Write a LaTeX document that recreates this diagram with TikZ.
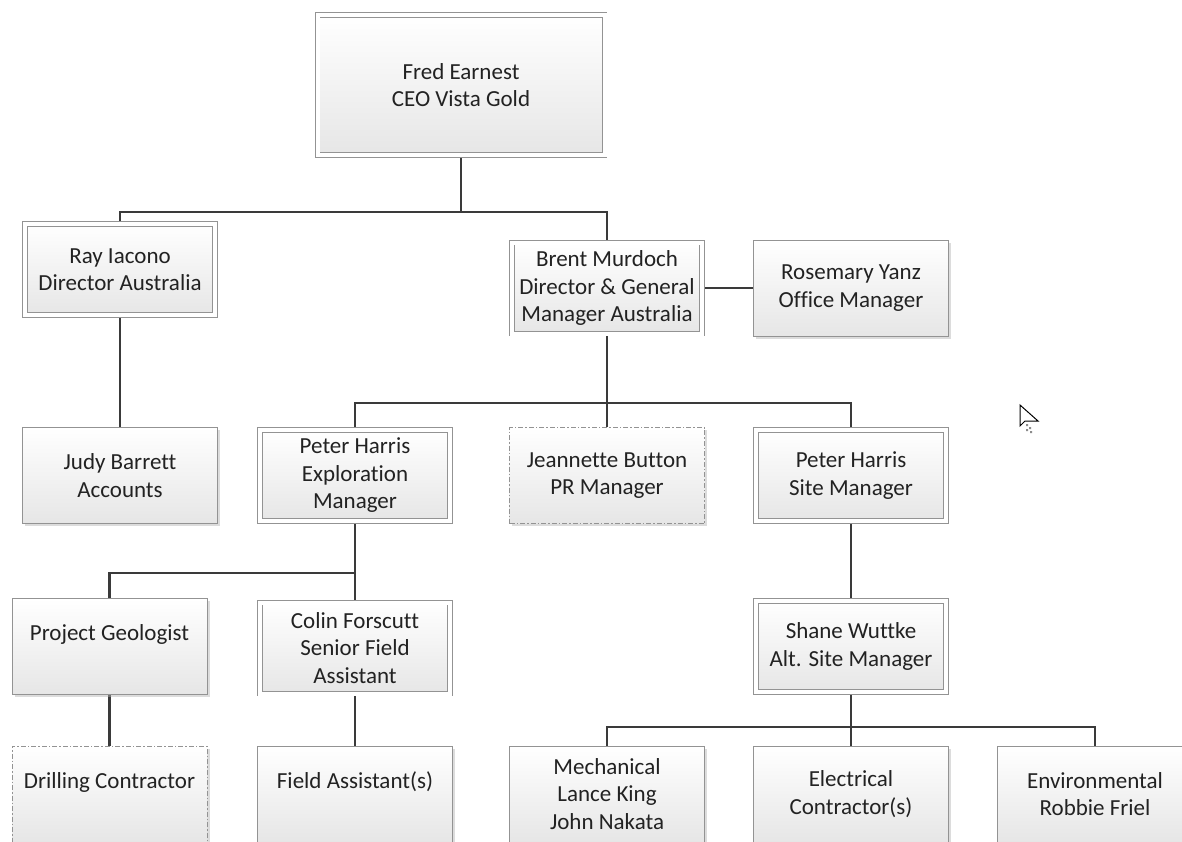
\documentclass[tikz,border=0pt]{standalone}
\usepackage{fontspec}
\setmainfont{Carlito}[Ligatures=NoCommon]
\usetikzlibrary{shadows,backgrounds}
\definecolor{boxline}{HTML}{939393}
\definecolor{boxbot}{HTML}{E6E6E6}
\definecolor{conncol}{HTML}{3A3A3A}
\definecolor{txt}{HTML}{222222}
\begin{document}
\begin{tikzpicture}[x=1pt,y=-1pt,
 box/.style={rectangle, draw=boxline, line width=0.9pt, top color=white, bottom color=boxbot,
   minimum width=195pt, minimum height=96pt, inner sep=0pt, align=center, text=txt,
   font=\fontsize{23}{27.5}\selectfont,
   drop shadow={shadow xshift=2.5pt, shadow yshift=-2.5pt, fill=black!30, opacity=0.45}},
 dbl/.style={box, double=white, double distance=4pt, minimum width=190pt, minimum height=91pt},
 dsh/.style={box, dash pattern=on 5pt off 2pt on 1.5pt off 2pt},
 conn/.style={draw=conncol, line width=2.5pt}]
\useasboundingbox (0,0) rectangle (1182,841);
\begin{scope}[on background layer]
\fill[white] (0,0) rectangle (1182,841);
\end{scope}
\clip (0,0) rectangle (1182,841);

\node[dbl, minimum width=287pt, minimum height=140pt] (fred) at (461,85) {Fred Earnest\\CEO Vista Gold};
\node[dbl] (ray) at (120,269.5) {Ray Iacono\\Director Australia};
\node[dbl] (brent) at (607,288) {Brent Murdoch\\Director \& General\\Manager Australia};
\node[box] (rose) at (851,288) {Rosemary Yanz\\Office Manager};
\node[box] (judy) at (120,475.5) {Judy Barrett\\Accounts};
\node[dbl] (expl) at (355,475.5) {Peter Harris\\Exploration\\Manager};
\node[dsh] (jean) at (607,475.5) {Jeannette Button\\PR Manager};
\node[dbl] (site) at (851,475.5) {Peter Harris\\Site Manager};
\node[box] (geo) at (109.5,646.5) {Project Geologist\\\mbox{}};
\node[dbl] (colin) at (355,648) {Colin Forscutt\\Senior Field\\Assistant};
\node[dbl] (shane) at (851,646.5) {Shane Wuttke\\Alt. Site Manager};
\node[dsh] (drill) at (109.5,794) {Drilling Contractor\\\mbox{}};
\node[box] (field) at (355,794) {Field Assistant(s)\\\mbox{}};
\node[box] (mech) at (607,794) {Mechanical\\Lance King\\John Nakata};
\node[box] (elec) at (851,794) {Electrical\\Contractor(s)};
\node[box] (env) at (1095,794) {Environmental\\Robbie Friel};

\coordinate (j1) at (fred.south |- 0,212);
\coordinate (j2) at (brent.south |- 0,403);
\coordinate (j3) at (expl.south |- 0,573);
\coordinate (j4) at (shane.south |- 0,727);

\begin{scope}[on background layer]
\draw[conn] (fred.south) -- (j1);
\draw[conn] (ray.north) |- (j1) -| (brent.north);
\draw[conn] (brent.east) -- (rose.west);
\draw[conn] (ray.south) -- (judy.north);
\draw[conn] (brent.south) -- (j2);
\draw[conn] (expl.north) |- (j2) -| (site.north);
\draw[conn] (j2) -- (jean.north);
\draw[conn] (expl.south) -- (j3);
\draw[conn] (geo.north) |- (j3) -| (colin.north);
\draw[conn] (geo.south) -- (drill.north);
\draw[conn] (colin.south) -- (field.north);
\draw[conn] (site.south) -- (shane.north);
\draw[conn] (shane.south) -- (j4);
\draw[conn] (mech.north) |- (j4) -| (env.north);
\draw[conn] (j4) -- (elec.north);
\end{scope}

% mouse cursor
\draw[black, line width=1pt, fill=white, line join=miter] (1020,405) -- (1020,426) -- (1025,421) -- (1038,421) -- cycle;
\fill[black!45] (1026,424) rectangle (1028,426) (1029,427) rectangle (1031,429) (1026,429) rectangle (1028,431) (1030,431) rectangle (1032,433);
\end{tikzpicture}
\end{document}
